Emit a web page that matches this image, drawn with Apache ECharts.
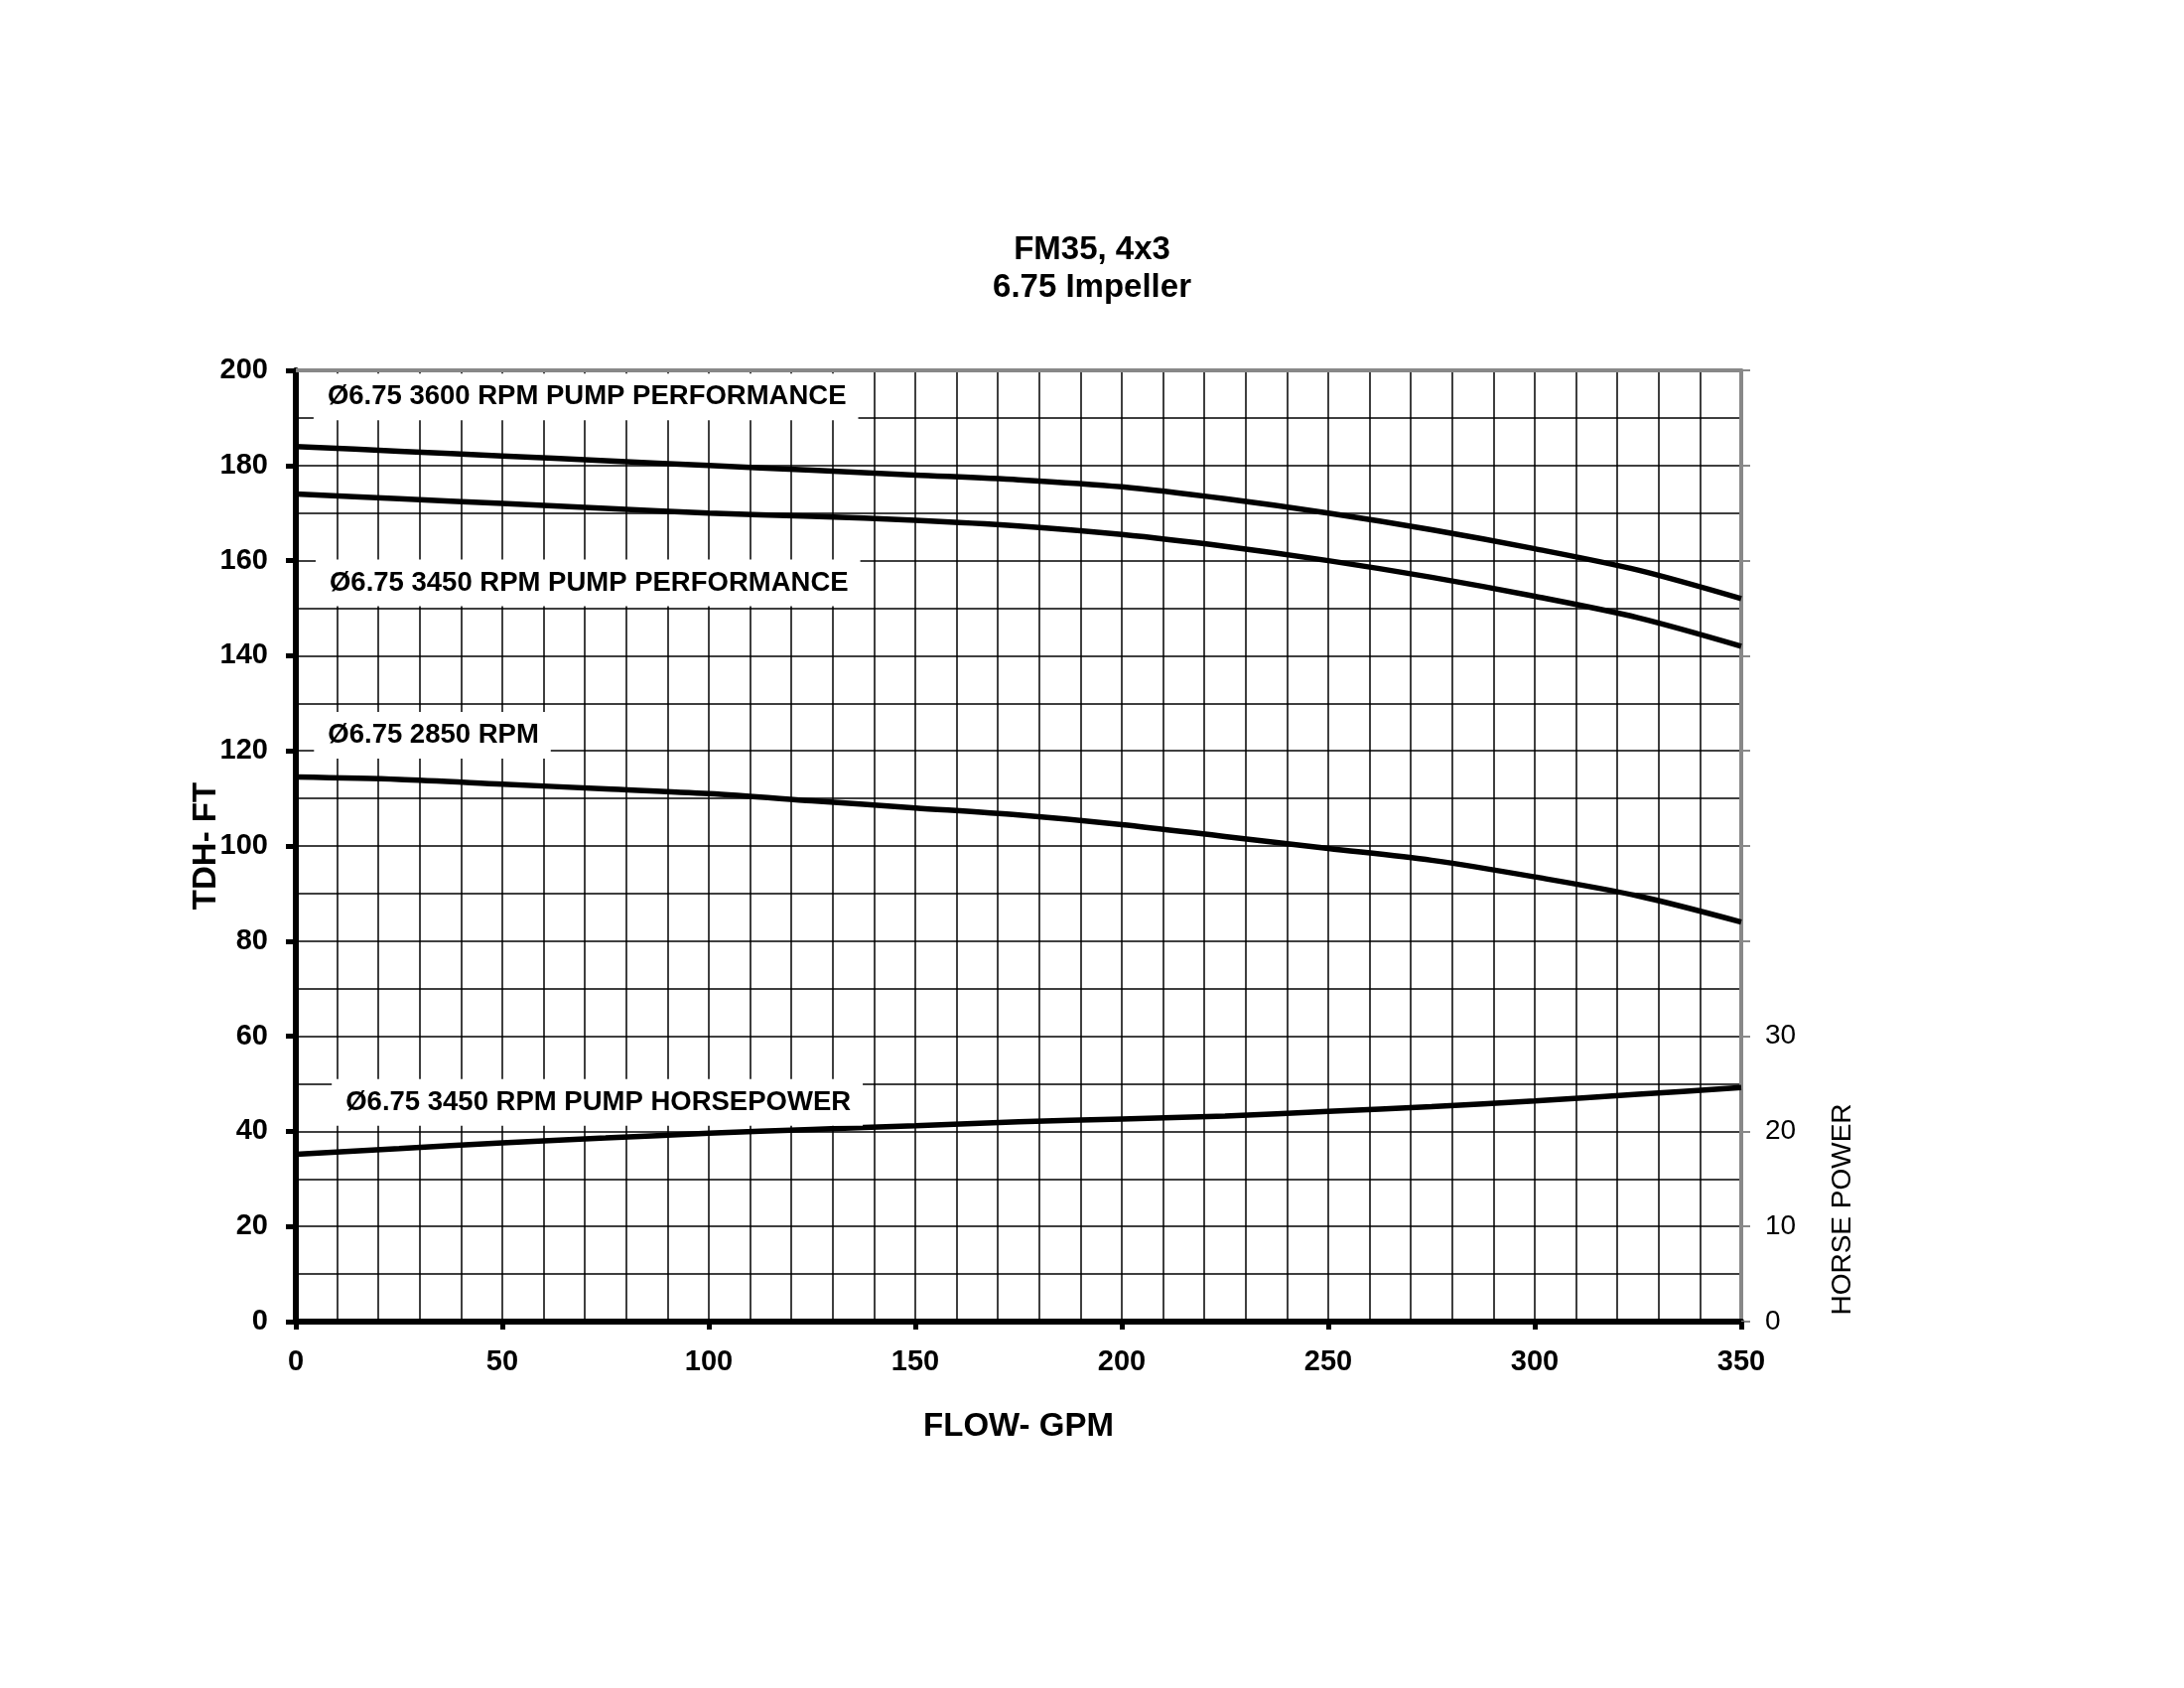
<!DOCTYPE html>
<html>
<head>
<meta charset="utf-8">
<script src="https://cdn.jsdelivr.net/npm/echarts@6/dist/echarts.min.js"></script>
<style>
  html, body { margin: 0; padding: 0; background: #fff; }
  #main { width: 2200px; height: 1700px; }
</style>
</head>
<body>
<div id="main"></div>
<script>
var myChart = echarts.init(document.getElementById('main'));

// flow in GPM
let flow = [0, 25, 50, 75, 100, 125, 150, 175, 200, 225, 250, 275, 300, 325, 350];
// head in ft
let head3600 = [184, 183, 182, 181, 180, 179, 178, 177, 175.5, 173, 170, 166.5, 162.5, 158, 152];
let head3450 = [174, 173, 172, 171, 170, 169.3, 168.5, 167.3, 165.5, 163, 160, 156.5, 152.5, 148, 142];
let head2850 = [114.5, 114, 113, 112, 111, 109.5, 108, 106.5, 104.5, 102, 99.5, 97, 93.5, 89.5, 84];
// horsepower, right axis
let hp3450 = [17.6, 18.2, 18.8, 19.3, 19.8, 20.2, 20.6, 21, 21.3, 21.6, 22.1, 22.6, 23.2, 23.9, 24.6];

// curve labels: [flow, head] of the left middle of each box
let labelNames = ['Ø6.75 3600 RPM PUMP PERFORMANCE', 'Ø6.75 3450 RPM PUMP PERFORMANCE', 'Ø6.75 2850 RPM', 'Ø6.75 3450 RPM PUMP HORSEPOWER'];
let labelPos = [[4.3, 194.4], [4.8, 155.3], [4.4, 123.3], [8.7, 46.1]];

const FONT = '"Liberation Sans", Arial, sans-serif';

function pairs(ys) {
    let out = [];
    for (let i = 0; i < flow.length; i++) {
        out.push([flow[i], ys[i]]);
    }
    return out;
}

function curve(ys, axisIndex) {
    return {
        type: 'line',
        yAxisIndex: axisIndex,
        smooth: 0.3,
        symbol: 'none',
        lineStyle: { color: '#000', width: 5.5 },
        data: pairs(ys),
        z: 3
    };
}

var gridLine = { show: true, lineStyle: { color: '#000', width: 1.5 } };

var option = {
    backgroundColor: '#fff',
    animation: false,
    title: {
        text: 'FM35, 4x3\n6.75 Impeller',
        left: 'center',
        top: 233,
        padding: 0,
        textStyle: {
            fontFamily: FONT,
            fontWeight: 'bold',
            fontSize: 33,
            lineHeight: 38,
            color: '#000'
        }
    },
    grid: {
        left: 298,
        right: 446,
        top: 373,
        bottom: 369
    },
    xAxis: [
        {
            type: 'value',
            min: 0,
            max: 350,
            interval: 50,
            name: 'FLOW- GPM',
            nameLocation: 'middle',
            nameGap: 89,
            nameMoveOverlap: false,
            nameTextStyle: { fontFamily: FONT, fontWeight: 'bold', fontSize: 33, color: '#000' },
            axisLine: { show: true, onZero: false, lineStyle: { color: '#000', width: 6 } },
            axisTick: { show: true, length: 8, lineStyle: { color: '#000', width: 5 } },
            axisLabel: { margin: 26, fontFamily: FONT, fontWeight: 'bold', fontSize: 29, color: '#000' },
            splitLine: { show: true, showMinLine: false, showMaxLine: false, lineStyle: { color: '#000', width: 1.5 } },
            minorTick: { show: false, splitNumber: 5 },
            minorSplitLine: gridLine
        },
        {
            type: 'value',
            position: 'top',
            min: 0,
            max: 350,
            axisLine: { show: true, onZero: false, lineStyle: { color: '#888', width: 4 } },
            axisTick: { show: false },
            axisLabel: { show: false },
            splitLine: { show: false }
        }
    ],
    yAxis: [
        {
            type: 'value',
            min: 0,
            max: 200,
            interval: 20,
            name: 'TDH- FT',
            nameLocation: 'middle',
            nameGap: 74,
            nameMoveOverlap: false,
            nameTextStyle: { fontFamily: FONT, fontWeight: 'bold', fontSize: 33, color: '#000' },
            axisLine: { show: true, onZero: false, lineStyle: { color: '#000', width: 6 } },
            axisTick: { show: true, length: 10, lineStyle: { color: '#000', width: 5 } },
            axisLabel: { margin: 28, fontFamily: FONT, fontWeight: 'bold', fontSize: 29, color: '#000' },
            splitLine: { show: true, showMinLine: false, showMaxLine: false, lineStyle: { color: '#000', width: 1.5 } },
            minorTick: { show: false, splitNumber: 2 },
            minorSplitLine: gridLine
        },
        {
            type: 'value',
            position: 'right',
            min: 0,
            max: 100,
            interval: 10,
            axisLine: { show: true, onZero: false, lineStyle: { color: '#888', width: 4 } },
            axisTick: { show: true, length: 9, lineStyle: { color: '#888', width: 2 } },
            axisLabel: {
                margin: 24,
                fontFamily: FONT,
                fontSize: 28,
                color: '#000',
                formatter: function (v) {
                    return v <= 30 ? String(v) : '';
                }
            },
            splitLine: { show: false }
        }
    ],
    graphic: [
        {
            type: 'text',
            x: 1856,
            y: 1218,
            rotation: Math.PI / 2,
            style: {
                text: 'HORSE POWER',
                font: '28px ' + FONT,
                fill: '#000',
                align: 'center',
                verticalAlign: 'middle'
            }
        }
    ],
    series: [
        curve(head3600, 0),
        curve(head3450, 0),
        curve(head2850, 0),
        curve(hp3450, 1),
        {
            type: 'scatter',
            symbolSize: 0,
            silent: true,
            z: 4,
            itemStyle: { opacity: 1 },
            data: labelPos.map(function (p, i) {
                return { value: p, name: labelNames[i] };
            }),
            label: {
                show: true,
                position: 'right',
                distance: 0,
                formatter: function (p) { return p.name; },
                backgroundColor: '#fff',
                padding: [10, 12, 10, 14],
                fontFamily: FONT,
                fontWeight: 'bold',
                fontSize: 27.5,
                lineHeight: 27,
                color: '#000',
                opacity: 1
            }
        }
    ]
};

myChart.setOption(option);
</script>
</body>
</html>
